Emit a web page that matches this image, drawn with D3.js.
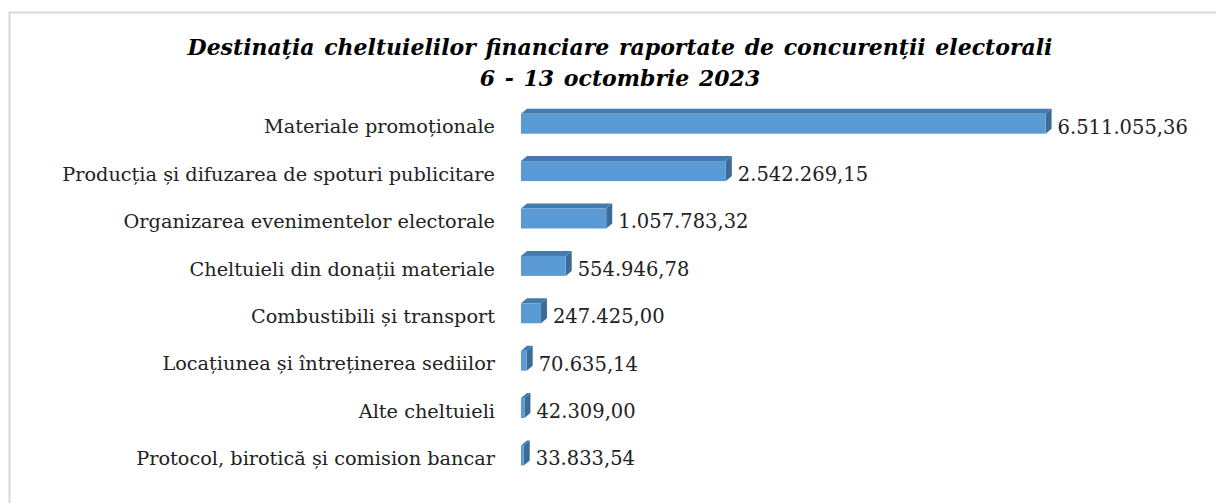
<!DOCTYPE html>
<html lang="en">
<head>
<meta charset="UTF-8">
<title>Destinația cheltuielilor financiare</title>
<script src="https://cdn.jsdelivr.net/npm/d3@7"></script>
<style>
  body { margin: 0; background: #fff; }
  svg { display: block; }
</style>
</head>
<body>
<div id="chart"></div>
<script>
  // Data
  const categories = [
    "Materiale promoționale",
    "Producția și difuzarea de spoturi publicitare",
    "Organizarea evenimentelor electorale",
    "Cheltuieli din donații materiale",
    "Combustibili și transport",
    "Locațiunea și întreținerea sediilor",
    "Alte cheltuieli",
    "Protocol, birotică și comision bancar"
  ];
  const values = [6511055.36, 2542269.15, 1057783.32, 554946.78, 247425.00, 70635.14, 42309.00, 33833.54];
  const titleLines = [
    "Destinația cheltuielilor financiare raportate de concurenții electorali",
    "6 - 13 octombrie 2023"
  ];

  const width = 1216, height = 503;
  const depthX = 6, depthY = 5, barH = 20;
  const font = "'DejaVu Serif', 'Liberation Serif', serif";

  const svg = d3.select("#chart").append("svg")
      .attr("width", width)
      .attr("height", height);

  svg.append("rect")
      .attr("x", 9.5).attr("y", 12.5)
      .attr("width", width + 20).attr("height", height + 20)
      .attr("fill", "#fff")
      .attr("stroke", "#d9d9d9")
      .attr("stroke-width", 2);

  svg.append("text")
      .attr("x", 620)
      .attr("y", 47)
      .attr("text-anchor", "middle")
      .attr("font-family", font)
      .attr("font-weight", "bold")
      .attr("font-style", "italic")
      .attr("font-size", 22)
      .attr("word-spacing", 2)
      .attr("fill", "#000")
      .selectAll("tspan")
      .data(titleLines)
      .join("tspan")
      .attr("x", 620)
      .attr("dy", (d, i) => i === 0 ? "0.35em" : 31)
      .text(d => d);

  const x = d3.scaleLinear().domain([0, 7000000]).range([521, 1085]);
  const y = d3.scaleBand().domain(categories).range([100, 479.2]);

  const fmt = v => {
    const [intPart, dec] = v.toFixed(2).split(".");
    return intPart.replace(/\B(?=(\d{3})+(?!\d))/g, ".") + "," + dec;
  };

  const rows = categories.map((c, i) => ({ cat: c, val: values[i] }));

  const g = svg.append("g");
  const bar = g.selectAll("g.bar")
      .data(rows)
      .join("g")
      .attr("class", "bar");

  const x0 = x(0);
  // top face
  bar.append("path")
      .attr("fill", "#457aad")
      .attr("d", d => {
        const yt = y(d.cat) + y.bandwidth() / 2 - barH / 2;
        const x1 = x(d.val);
        return `M${x0},${yt} L${x0 + depthX},${yt - depthY} L${x1 + depthX},${yt - depthY} L${x1},${yt} Z`;
      });
  // side face
  bar.append("path")
      .attr("fill", "#3d6b98")
      .attr("d", d => {
        const yt = y(d.cat) + y.bandwidth() / 2 - barH / 2;
        const x1 = x(d.val);
        return `M${x1},${yt} L${x1 + depthX},${yt - depthY} L${x1 + depthX},${yt - depthY + barH} L${x1},${yt + barH} Z`;
      });
  // front face
  bar.append("rect")
      .attr("x", x0)
      .attr("y", d => y(d.cat) + y.bandwidth() / 2 - barH / 2)
      .attr("width", d => Math.max(0.5, x(d.val) - x0))
      .attr("height", barH)
      .attr("fill", "#5b9bd5");

  // value labels
  bar.append("text")
      .attr("x", d => x(d.val) + depthX + 6)
      .attr("y", d => y(d.cat) + y.bandwidth() / 2 + 3)
      .attr("dy", "0.35em")
      .attr("font-family", font)
      .attr("font-size", 19.5)
      .attr("fill", "#222")
      .text(d => fmt(d.val));

  // category labels
  bar.append("text")
      .attr("x", 495)
      .attr("y", d => y(d.cat) + y.bandwidth() / 2 + 3)
      .attr("dy", "0.35em")
      .attr("text-anchor", "end")
      .attr("font-family", font)
      .attr("font-size", 19.3)
      .attr("fill", "#222")
      .text(d => d.cat);
</script>
</body>
</html>
